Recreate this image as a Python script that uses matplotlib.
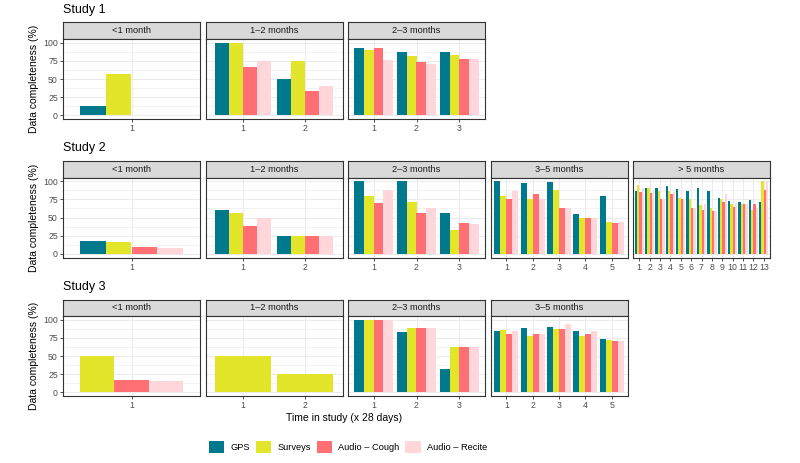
import matplotlib
matplotlib.use("Agg")
import matplotlib.pyplot as plt
from matplotlib.patches import Patch

plt.rcParams['font.family'] = ['Liberation Sans', 'DejaVu Sans']

# series (legend order) and colours
series = ["GPS", "Surveys", "Audio \u2013 Cough", "Audio \u2013 Recite"]
colors = ["#00798C", "#E3E52B", "#FF6F73", "#FFD6D9"]

# one list per series, one value per time point (x 28 days); None = not collected
s1_lt1 = [[13], [57], [1], [0.4]]
s1_1to2 = [[100, 50], [100, 75], [67, 33], [75, 41]]
s1_2to3 = [[92, 87, 87], [90, 82, 83], [92, 73, 78], [76, 70, 77]]

s2_lt1 = [[18], [17], [9], [8]]
s2_1to2 = [[61, 25], [56, 25], [38, 25], [50, 25]]
s2_2to3 = [[100, 100, 56], [80, 71, 33], [70, 56, 42], [88, 63, 41]]
s2_3to5 = [[100, 97, 99, 55, 79], [80, 75, 88, 50, 44],
           [75, 83, 63, 50, 42], [87, 75, 63, 50, 44]]
s2_gt5 = [[86, 90, 90, 93, 89, 87, 90, 87, 77, 73, 71, 74, 72],
          [95, 91, 87, 87, 77, 75, 67, 63, 75, 69, 69, 60, 100],
          [85, 84, 75, 83, 75, 63, 61, 59, 72, 65, 69, 68, 88],
          [91, 86, 75, 85, 75, 63, 68, 59, 83, 70, 68, 63, 100]]

s3_lt1 = [None, [50], [17], [15]]
s3_1to2 = [None, [50, 25], None, None]
s3_2to3 = [[100, 83, 32], [100, 88, 62], [100, 88, 62], [100, 88, 62]]
s3_3to5 = [[85, 88, 90, 85, 73], [86, 78, 87, 78, 72],
           [80, 80, 87, 80, 70], [85, 80, 94, 84, 70]]

periods = ["<1 month", "1\u20132 months", "2\u20133 months", "3\u20135 months", "> 5 months"]
studies = [
    ("Study 1", [s1_lt1, s1_1to2, s1_2to3]),
    ("Study 2", [s2_lt1, s2_1to2, s2_2to3, s2_3to5, s2_gt5]),
    ("Study 3", [s3_lt1, s3_1to2, s3_2to3, s3_3to5]),
]

W, H = 800, 463
fig = plt.figure(figsize=(W / 100, H / 100), dpi=100)

panel_left = [63, 205.5, 348, 490.5, 633]
panel_w = 137
strip_tops = [22.5, 161, 299.5]
strip_h = 16.5
panel_h = 80

edge = "#333333"
grid = "#EBEBEB"


def px_box(x, y, w, h):
    return [x / W, 1 - (y + h) / H, w / W, h / H]


def draw_panel(ax, data):
    nt = max(len(v) for v in data if v is not None)
    for t in range(nt):
        present = [k for k, v in enumerate(data) if v is not None]
        bw = 0.9 / len(present)
        for j, k in enumerate(present):
            x = t + 1 - 0.45 + (j + 0.5) * bw
            ax.bar(x, data[k][t], width=bw, color=colors[k], zorder=3)
    ax.set_xlim(0.4, nt + 0.6)
    ax.set_ylim(-5, 105)
    ax.set_xticks(range(1, nt + 1))
    ax.set_yticks([0, 25, 50, 75, 100])
    ax.set_yticks([12.5, 37.5, 62.5, 87.5], minor=True)
    ax.grid(True, which="major", color=grid, lw=0.7, zorder=0)
    ax.grid(True, which="minor", axis="y", color=grid, lw=0.4, zorder=0)
    ax.tick_params(which="major", length=2.2, width=0.6, color=edge,
                   labelsize=6.3, labelcolor="#4D4D4D", pad=1.5)
    ax.tick_params(which="minor", length=0)
    for s in ax.spines.values():
        s.set_color(edge)
        s.set_linewidth(0.8)
    ax.set_axisbelow(True)


for r, (title, panels) in enumerate(studies):
    top = strip_tops[r]
    fig.text(panel_left[0] / W, 1 - (top - 12.5) / H, title, fontsize=9,
             ha="left", va="center")
    for i, data in enumerate(panels):
        sax = fig.add_axes(px_box(panel_left[i], top, panel_w, strip_h))
        sax.set_facecolor("#D9D9D9")
        sax.set_xticks([])
        sax.set_yticks([])
        for s in sax.spines.values():
            s.set_color(edge)
            s.set_linewidth(0.8)
        sax.text(0.5, 0.5, periods[i], transform=sax.transAxes, ha="center",
                 va="center", fontsize=6.7, color="#1A1A1A")

        ax = fig.add_axes(px_box(panel_left[i], top + strip_h, panel_w, panel_h))
        draw_panel(ax, data)
        if i == 0:
            ax.set_ylabel("Data completeness (%)", fontsize=7.5, labelpad=3)
        else:
            ax.set_yticklabels([])
            ax.tick_params(axis="y", length=0)

fig.text(344 / W, 1 - 418 / H, "Time in study (x 28 days)", fontsize=7.5,
         ha="center", va="center")

handles = [Patch(facecolor=c, label=s) for c, s in zip(colors, series)]
fig.legend(handles=handles, loc="center", bbox_to_anchor=(348 / W, 1 - 447 / H),
           ncol=4, frameon=False, fontsize=6.7, handlelength=1.7,
           handleheight=1.7, handletextpad=0.65, columnspacing=0.6,
           borderaxespad=0, borderpad=0)

fig.savefig("out.png", dpi=100)
